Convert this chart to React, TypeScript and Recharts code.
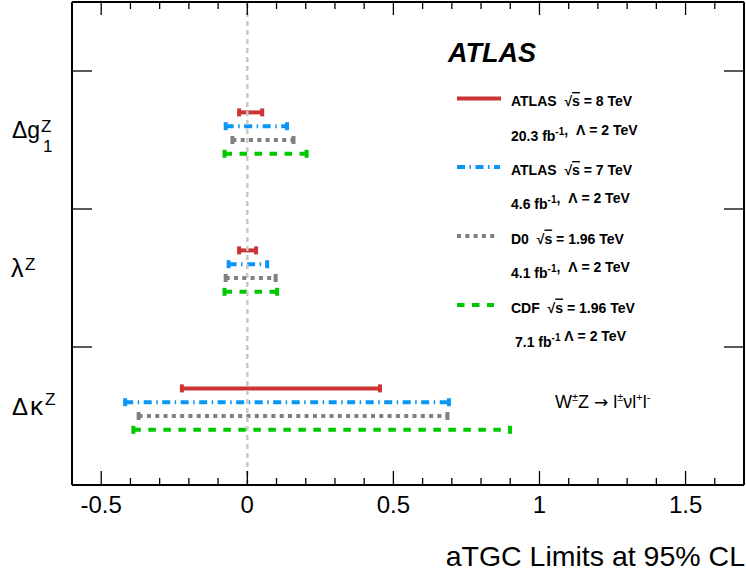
import { ComposedChart, Line, XAxis, YAxis, ReferenceLine } from "recharts";

// 95% CL limits [lower, upper], rows: Δg1Z, λZ, ΔκZ
const PARAMETERS = ["dg1Z", "lambdaZ", "dkappaZ"];
const ATLAS_8TEV = [[-0.028, 0.051], [-0.028, 0.030], [-0.224, 0.454]];
const ATLAS_7TEV = [[-0.074, 0.136], [-0.064, 0.068], [-0.418, 0.690]];
const D0_196 = [[-0.051, 0.158], [-0.074, 0.097], [-0.372, 0.685]];
const CDF_196 = [[-0.078, 0.203], [-0.078, 0.102], [-0.390, 0.899]];

const X_MAJOR = [-0.5, 0, 0.5, 1, 1.5];
const X_TICKS = [-0.6, -0.5, -0.4, -0.3, -0.2, -0.1, 0, 0.1, 0.2, 0.3, 0.4, 0.5, 0.6, 0.7, 0.8, 0.9, 1, 1.1, 1.2, 1.3, 1.4, 1.5, 1.6, 1.7];
const Y_BANDS = [1, 2, 3];
const Y_CENTERS = [2.5, 1.5, 0.5];

const FONT = "'Liberation Sans', Arial, Helvetica, sans-serif";
const ROW_STEP = 0.1;

const SERIES = [
  { key: "atlas8", limits: ATLAS_8TEV, color: "#cc3333", dash: undefined },
  { key: "atlas7", limits: ATLAS_7TEV, color: "#0a96f5", dash: "8 4.5 1.5 4.5" },
  { key: "d0", limits: D0_196, color: "#808080", dash: "4 4.3" },
  { key: "cdf", limits: CDF_196, color: "#00c800", dash: "7.5 7.5" },
];

const makeCap = (color: string) => (props: any) => (
  <rect key={`cap-${props.index}`} x={props.cx - 2} y={props.cy - 4} width={4} height={8} fill={color} />
);

const BottomTick = (props: any) => {
  const { x, y, payload } = props;
  const major = X_MAJOR.includes(payload.value);
  return (
    <g>
      <line x1={x} x2={x} y1={y} y2={y - (major ? 14 : 7)} stroke="#000" strokeWidth={1.3} />
      {major && (
        <text x={x} y={y + 28} textAnchor="middle" fontSize={24} fontFamily={FONT} fill="#000">
          {String(payload.value)}
        </text>
      )}
    </g>
  );
};

const TopTick = (props: any) => {
  const { x, y, payload } = props;
  const major = X_MAJOR.includes(payload.value);
  return <line x1={x} x2={x} y1={y} y2={y + (major ? 13 : 7)} stroke="#000" strokeWidth={1.3} />;
};

const LeftTick = (props: any) => {
  const { x, y, payload } = props;
  if (Y_BANDS.includes(payload.value)) {
    return <line x1={x} x2={x + 20} y1={y} y2={y} stroke="#000" strokeWidth={1.3} />;
  }
  const p = PARAMETERS[Y_CENTERS.indexOf(payload.value)];
  const t = { fontFamily: FONT, fill: "#000" };
  if (p === "dg1Z") {
    return (
      <g>
        <text x={x - 60} y={y - 2} fontSize={23} {...t}>Δg</text>
        <text x={x - 31} y={y - 8} fontSize={17} {...t}>Z</text>
        <text x={x - 29} y={y + 12} fontSize={17} {...t}>1</text>
      </g>
    );
  }
  if (p === "lambdaZ") {
    return (
      <g>
        <text x={x - 61} y={y - 1} fontSize={25} {...t}>λ</text>
        <text x={x - 47} y={y - 8} fontSize={17} {...t}>Z</text>
      </g>
    );
  }
  return (
    <g>
      <text x={x - 60} y={y - 1} fontSize={24} {...t}>Δ<tspan dx={2} fontSize={26}>κ</tspan></text>
      <text x={x - 27} y={y - 11} fontSize={17} {...t}>Z</text>
    </g>
  );
};

const RightTick = (props: any) => {
  const { x, y } = props;
  return <line x1={x} x2={x - 20} y1={y} y2={y} stroke="#000" strokeWidth={1.3} />;
};

const Sup = ({ children }: { children: string }) => (
  <>
    <tspan dy={-6} fontSize={10}>{children}</tspan>
    <tspan dy={6}></tspan>
  </>
);

const legendText: any = {
  fontFamily: FONT, fontSize: 14, fontWeight: 700, fill: "#000", xmlSpace: "preserve", style: { whiteSpace: "pre" },
};
const LEGEND_LINE_Y = [98.5, 167, 236, 305];
const LEGEND_LINE_END = [501, 500, 498, 494];
const Root = () => (
  <>
    √<tspan style={{ textDecoration: "overline" }}>s</tspan>
  </>
);

export default function App() {
  return (
    <div style={{ position: "absolute", left: 0, top: 0, background: "#fff" }}>
      <ComposedChart width={746} height={575} margin={{ top: 1, right: 1, bottom: 89, left: 71 }}>
        <XAxis
          xAxisId="b"
          type="number"
          dataKey="x"
          domain={[-0.6, 1.7]}
          allowDataOverflow
          ticks={X_TICKS}
          interval={0}
          height={1}
          tickSize={0}
          tickMargin={0}
          tickLine={false}
          tick={<BottomTick />}
          axisLine={{ stroke: "#000", strokeWidth: 2 }}
        />
        <XAxis
          xAxisId="t"
          orientation="top"
          type="number"
          dataKey="x"
          domain={[-0.6, 1.7]}
          allowDataOverflow
          ticks={X_TICKS}
          interval={0}
          height={1}
          tickSize={0}
          tickMargin={0}
          tickLine={false}
          tick={<TopTick />}
          axisLine={{ stroke: "#000", strokeWidth: 2 }}
        />
        <YAxis
          yAxisId="l"
          type="number"
          dataKey="y"
          domain={[0, 3.5]}
          allowDataOverflow
          ticks={[...Y_CENTERS, ...Y_BANDS]}
          interval={0}
          width={1}
          tickSize={0}
          tickMargin={0}
          tickLine={false}
          tick={<LeftTick />}
          axisLine={{ stroke: "#000", strokeWidth: 2 }}
        />
        <YAxis
          yAxisId="r"
          orientation="right"
          type="number"
          domain={[0, 3.5]}
          allowDataOverflow
          ticks={Y_BANDS}
          interval={0}
          width={1}
          tickSize={0}
          tickMargin={0}
          tickLine={false}
          tick={<RightTick />}
          axisLine={{ stroke: "#000", strokeWidth: 2 }}
        />
        {SERIES.map((s, si) =>
          s.limits.map(([lo, hi], pi) => {
            const y = Y_CENTERS[pi] + (2 - si) * ROW_STEP;
            return (
              <Line
                key={`${s.key}-${PARAMETERS[pi]}`}
                xAxisId="b"
                yAxisId="l"
                data={[{ x: lo, y }, { x: hi, y }]}
                dataKey="y"
                stroke={s.color}
                strokeWidth={4}
                strokeDasharray={s.dash}
                dot={makeCap(s.color)}
                activeDot={false}
                isAnimationActive={false}
              />
            );
          })
        )}
        <ReferenceLine xAxisId="b" yAxisId="l" x={0} stroke="#c8c8c8" strokeWidth={2.5} strokeDasharray="5 4" />

        <text x={448} y={62} fontFamily={FONT} fontSize={27} fontWeight={700} fontStyle="italic" fill="#000">ATLAS</text>
        {SERIES.map((s, i) => (
          <line key={`leg-${s.key}`} x1={457} x2={LEGEND_LINE_END[i]} y1={LEGEND_LINE_Y[i]} y2={LEGEND_LINE_Y[i]}
            stroke={s.color} strokeWidth={4} strokeDasharray={s.dash} />
        ))}
        <text x={511} y={106} {...legendText}>ATLAS  <Root /> = 8 TeV</text>
        <text x={511} y={140.5} {...legendText}>20.3 fb<Sup>-1</Sup>,  Λ = 2 TeV</text>
        <text x={511} y={175} {...legendText}>ATLAS  <Root /> = 7 TeV</text>
        <text x={511} y={209} {...legendText}>4.6 fb<Sup>-1</Sup>,  Λ = 2 TeV</text>
        <text x={511} y={243.5} {...legendText}>D0  <Root /> = 1.96 TeV</text>
        <text x={511} y={278} {...legendText}>4.1 fb<Sup>-1</Sup>,  Λ = 2 TeV</text>
        <text x={511} y={312.5} {...legendText}>CDF  <Root /> = 1.96 TeV</text>
        <text x={515} y={347} {...legendText}>7.1 fb<Sup>-1</Sup> Λ = 2 TeV</text>

        <text x={555} y={408} fontFamily={FONT} fontSize={18} fill="#000" xmlSpace="preserve" style={{ whiteSpace: "pre" }}>
          W<tspan dy={-7} fontSize={11}>±</tspan><tspan dy={7}>Z </tspan>
          <tspan fontFamily="'DejaVu Sans'" fontSize={17}>→</tspan><tspan> l</tspan>
          <tspan dy={-7} fontSize={11}>±</tspan><tspan dy={7}>νl</tspan>
          <tspan dy={-7} fontSize={11}>+</tspan><tspan dy={7}>l</tspan>
          <tspan dy={-7} fontSize={11}>-</tspan>
        </text>
        <text x={745} y={566} textAnchor="end" fontFamily={FONT} fontSize={28.5} fill="#000">aTGC Limits at 95% CL</text>
      </ComposedChart>
    </div>
  );
}
